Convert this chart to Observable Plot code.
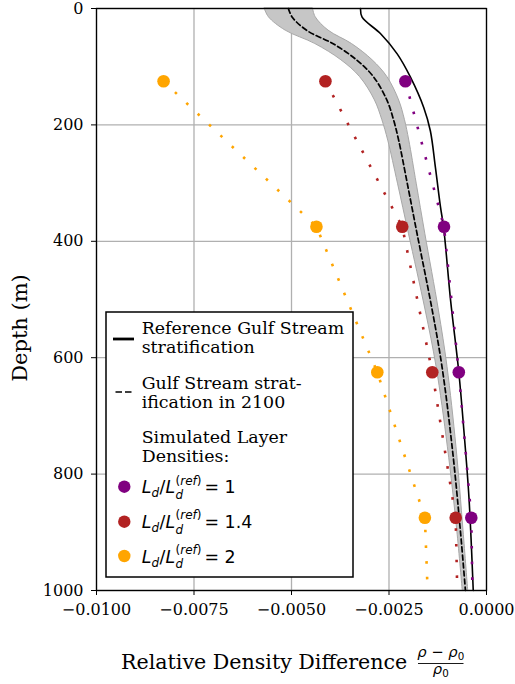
<!DOCTYPE html>
<html><head><meta charset="utf-8">
<script src="https://cdn.jsdelivr.net/npm/d3@7"></script>
<script src="https://cdn.jsdelivr.net/npm/@observablehq/plot@0.6"></script>
<style>body{margin:0;background:white} svg{display:block}</style>
</head><body><div id="chart"></div>
<script>
// ---- data ----
const refDepth = [0, 15, 43, 78, 118, 170, 210, 273, 341, 376, 502, 625, 725, 840, 1000];
const refRho   = [-0.00323, -0.00319, -0.00272, -0.00229, -0.00195, -0.00161, -0.00144, -0.00131, -0.00118, -0.00110, -0.00092, -0.00071, -0.00058, -0.00045, -0.00034];

const futDepth = [0, 15, 38, 61, 89, 118, 158, 192, 227, 301, 387, 519, 616, 754, 897, 1000];
const futRho   = [-0.00508, -0.00498, -0.00460, -0.00392, -0.00332, -0.00289, -0.00255, -0.00238, -0.00225, -0.00203, -0.00178, -0.00139, -0.00114, -0.00088, -0.00067, -0.00054];
const bandLo   = [-0.00569, -0.00558, -0.00515, -0.00439, -0.00372, -0.00324, -0.00286, -0.00267, -0.00252, -0.00227, -0.00199, -0.00156, -0.00128, -0.00099, -0.00075, -0.00061];
const bandHi   = [-0.00445, -0.00438, -0.00405, -0.00345, -0.00292, -0.00254, -0.00224, -0.00209, -0.00198, -0.00179, -0.00157, -0.00122, -0.00100, -0.00077, -0.00059, -0.00047];

const layerDepth = [125, 375, 625, 875];
const rhoRatio1  = [-0.00208, -0.00109, -0.00071, -0.00039];
const rhoRatio14 = [-0.00413, -0.00216, -0.00139, -0.00079];
const rhoRatio2  = [-0.00828, -0.00436, -0.00280, -0.00158];

const dottedDepth = [125, 375, 625, 875, 1000];
const dotted1  = [-0.00208, -0.00109, -0.00071, -0.00039, -0.00036];
const dotted14 = [-0.00413, -0.00216, -0.00139, -0.00079, -0.00075];
const dotted2  = [-0.00828, -0.00436, -0.00280, -0.00158, -0.00151];

const seriesNames = ["1", "1.4", "2"];
const seriesColors = ["#800080", "#b22222", "#ffa500"];
const xTicks = [-0.01, -0.0075, -0.005, -0.0025, 0];
const yTicks = [0, 200, 400, 600, 800, 1000];

// ---- tables ----
const ref = refDepth.map((d, i) => ({depth: d, rho: refRho[i]}));
const fut = futDepth.map((d, i) => ({depth: d, rho: futRho[i], lo: bandLo[i], hi: bandHi[i]}));
const layerVals = [rhoRatio1, rhoRatio14, rhoRatio2];
const dottedVals = [dotted1, dotted14, dotted2];
const layers = seriesNames.flatMap((s, k) => layerDepth.map((d, i) => ({series: s, depth: d, rho: layerVals[k][i]})));
const dotted = seriesNames.flatMap((s, k) => dottedDepth.map((d, i) => ({series: s, depth: d, rho: dottedVals[k][i]})));

const serif = "'DejaVu Serif', serif";
const sans = "'DejaVu Sans', sans-serif";

const chart = Plot.plot({
  width: 515, height: 684,
  marginLeft: 96, marginRight: 29, marginTop: 8, marginBottom: 94,
  style: {fontFamily: serif, fontSize: "16px", background: "white", color: "black"},
  x: {domain: [-0.01, 0], label: null},
  y: {domain: [0, 1000], reverse: true, label: null},
  color: {domain: seriesNames, range: seriesColors},
  marks: [
    Plot.gridX(xTicks, {stroke: "#b0b0b0", strokeOpacity: 1, strokeWidth: 1.3}),
    Plot.gridY(yTicks, {stroke: "#b0b0b0", strokeOpacity: 1, strokeWidth: 1.3}),
    Plot.areaX(fut, {y: "depth", x1: "lo", x2: "hi", fill: "#c6c6c6", stroke: "#a8a8a8", strokeWidth: 1, curve: "catmull-rom"}),
    Plot.line(ref, {x: "rho", y: "depth", stroke: "black", strokeWidth: 1.6, curve: "catmull-rom"}),
    Plot.line(fut, {x: "rho", y: "depth", stroke: "black", strokeWidth: 1.7, strokeDasharray: "5,3", curve: "catmull-rom"}),
    Plot.line(dotted, {x: "rho", y: "depth", z: "series", stroke: "series", strokeWidth: 2.6, strokeDasharray: "2.6,13.1", strokeLinecap: "butt"}),
    Plot.dot(layers, {x: "rho", y: "depth", fill: "series", r: 6.3}),
    Plot.axisX({ticks: xTicks, tickFormat: d3.format(".4f"), tickSize: 5, tickPadding: 8, label: null}),
    Plot.axisY({ticks: yTicks, tickFormat: d3.format("d"), tickSize: 5, tickPadding: 8, label: null}),
    Plot.frame({stroke: "black", strokeWidth: 1.3})
  ]
});
document.getElementById("chart").appendChild(chart);

const svg = d3.select(chart);

// ---- axis labels ----
svg.append("text").attr("transform", "translate(27,328) rotate(-90)")
  .attr("text-anchor", "middle").attr("font-family", serif).attr("font-size", 21).attr("fill", "black")
  .text("Depth (m)");

svg.append("text").attr("x", 121).attr("y", 669.3).attr("text-anchor", "start")
  .attr("font-family", serif).attr("font-size", 20.6).attr("fill", "black")
  .text("Relative Density Difference");
const fx = 440.8;
const num = svg.append("text").attr("x", fx).attr("y", 656.5).attr("text-anchor", "middle")
  .attr("font-family", sans).attr("font-size", 14.7).attr("fill", "black");
num.append("tspan").attr("font-style", "italic").text("ρ");
num.append("tspan").text(" − ");
num.append("tspan").attr("font-style", "italic").text("ρ");
num.append("tspan").attr("font-size", 10.3).attr("dy", 3).text("0");
svg.append("line").attr("x1", 418).attr("x2", 463.5).attr("y1", 663.5).attr("y2", 663.5)
  .attr("stroke", "black").attr("stroke-width", 0.9);
const den = svg.append("text").attr("x", fx).attr("y", 674).attr("text-anchor", "middle")
  .attr("font-family", sans).attr("font-size", 14.7).attr("fill", "black");
den.append("tspan").attr("font-style", "italic").text("ρ");
den.append("tspan").attr("font-size", 10.3).attr("dy", 3).text("0");

// ---- legend ----
const lg = svg.append("g").attr("text-anchor", "start");
lg.append("rect").attr("x", 106).attr("y", 312).attr("width", 247).attr("height", 265)
  .attr("fill", "white").attr("stroke", "black").attr("stroke-width", 1.5);
lg.append("line").attr("x1", 113).attr("x2", 134).attr("y1", 339).attr("y2", 339)
  .attr("stroke", "black").attr("stroke-width", 2.8);
lg.append("line").attr("x1", 115.5).attr("x2", 131.5).attr("y1", 392).attr("y2", 392)
  .attr("stroke", "black").attr("stroke-width", 1.7).attr("stroke-dasharray", "6.5,3");
const legendLines = [
  ["Reference Gulf Stream", 334.3], ["stratification", 353.3],
  ["Gulf Stream strat-", 389], ["ification in 2100", 408.3],
  ["Simulated Layer", 442.7], ["Densities:", 461.7]
];
legendLines.forEach(([t, y]) => {
  lg.append("text").attr("x", 141.7).attr("y", y).attr("text-anchor", "start").attr("font-family", serif)
    .attr("font-size", 17.4).attr("fill", "black").text(t);
});

// width measurement helper for the stacked super/subscript
function measure(t, size, italic) {
  const el = lg.append("text").attr("font-family", sans).attr("font-size", size)
    .attr("font-style", italic ? "italic" : "normal").text(t);
  const w = el.node().getComputedTextLength();
  el.remove();
  return w;
}
const big = 17.4, sm = 12;
const supW = measure("(", sm, false) + measure("ref", sm, true) + measure(")", sm, false);
const subW = measure("d", sm, true);

const markerY = [486.7, 521.7, 556];
const mathY = [493.3, 528.2, 562.6];
const ratioLabels = ["1", "1.4", "2"];
seriesNames.forEach((s, i) => {
  lg.append("circle").attr("cx", 124.3).attr("cy", markerY[i]).attr("r", 6.2).attr("fill", seriesColors[i]);
  const t = lg.append("text").attr("x", 141.7).attr("y", mathY[i]).attr("text-anchor", "start")
    .attr("font-family", sans).attr("font-size", big).attr("fill", "black");
  t.append("tspan").attr("font-style", "italic").text("L");
  t.append("tspan").attr("font-style", "italic").attr("font-size", sm).attr("dy", 4).text("d");
  t.append("tspan").attr("dy", -4).attr("dx", 0.5).text("/");
  t.append("tspan").attr("font-style", "italic").text("L");
  t.append("tspan").attr("font-size", sm).attr("dy", -8.8).attr("dx", 0.5).text("(");
  t.append("tspan").attr("font-size", sm).attr("font-style", "italic").text("ref");
  t.append("tspan").attr("font-size", sm).text(")");
  t.append("tspan").attr("font-size", sm).attr("font-style", "italic").attr("dy", 14.5).attr("dx", -supW).text("d");
  t.append("tspan").attr("dy", -5.7).attr("dx", Math.max(0, supW - subW) + 3).text("= " + ratioLabels[i]);
});
</script></body></html>
